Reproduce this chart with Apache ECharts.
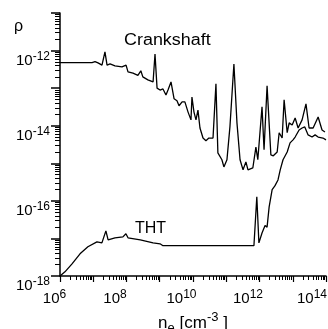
<!DOCTYPE html>
<html>
<head>
<meta charset="utf-8">
<script src="https://cdn.jsdelivr.net/npm/echarts@6/dist/echarts.min.js"></script>
<style>html,body{margin:0;padding:0;background:#fff}#c{width:328px;height:329px}</style>
</head>
<body>
<div id="c"></div>
<script>
// ---- data ----
const crankN = [1e6,9.2e6,1.13e7,1.39e7,1.83e7,2.25e7,2.6e7,3.2e7,4.5e7,7.3e7,9.7e7,1.11e8,1.57e8,2.2e8,2.7e8,3.1e8,4.4e8,6.3e8,7.2e8,8.3e8,1.02e9,1.25e9,1.54e9,1.77e9,2.18e9,2.7e9,3.3e9,3.8e9,4.7e9,5.7e9,7.1e9,8.7e9,9.3e9,1.07e10,1.23e10,1.41e10,1.62e10,2.0e10,2.45e10,3.0e10,4.0e10,4.9e10,5.6e10,7.4e10,8.5e10,1.05e11,1.29e11,1.7e11,2.1e11,2.6e11,3.2e11,3.9e11,4.5e11,6.3e11,7.8e11,8.9e11,1.19e12,1.37e12,1.69e12,2.2e12,2.6e12,3.4e12,3.9e12,4.8e12,5.5e12,6.8e12,7.8e12,9.6e12,1.18e13,1.45e13,1.91e13,2.5e13,3.1e13,4.1e13,5.8e13,7.6e13,9.3e13];
const crankRho = [4.8e-13,4.8e-13,5.1e-13,4.7e-13,4.1e-13,9.2e-13,4.1e-13,4.4e-13,3.9e-13,3.7e-13,4.1e-13,2.7e-13,2.5e-13,2.2e-13,2.9e-13,2.0e-13,1.66e-13,1.46e-13,8.1e-13,1.0e-13,8.9e-14,9.5e-14,6.6e-14,8.9e-14,1.46e-13,5.2e-14,4.6e-14,3.4e-14,4.3e-14,4.3e-14,2.3e-14,1.43e-14,5.8e-14,2.3e-14,1.43e-14,2.6e-14,8.7e-15,4.7e-15,4.0e-15,4.7e-15,4.7e-15,1.3e-13,1.9e-15,1.24e-15,8.0e-16,1.24e-15,9.3e-15,4.4e-13,1.19e-14,1.24e-15,6.7e-16,1.09e-15,6.7e-16,7.5e-16,2.7e-15,1.24e-15,3.2e-14,2.3e-15,1.15e-13,1.67e-15,1.58e-15,2.0e-15,6.5e-15,4.7e-15,4.9e-14,6.5e-15,1.19e-14,1.05e-14,1.6e-14,8.7e-15,1.43e-14,3.8e-14,8.7e-15,8.7e-15,1.71e-14,7.7e-15,6.8e-15];
const thtN = [1e6,1.41e6,2.3e6,4.0e6,6.9e6,1.29e7,1.82e7,2.4e7,2.8e7,4.5e7,7.8e7,9.6e7,1.11e8,2.6e8,6.3e8,1.02e9,1.25e9,2.7e9,3.1e9,3.5e9,6.8e11,7.8e11,8.3e11,9.6e11,1.19e12,1.47e12,1.69e12,1.95e12,2.4e12,2.9e12,3.6e12,4.2e12,5.1e12,6.8e12,8.3e12,1.02e13,1.18e13,1.55e13,1.91e13,2.3e13,2.9e13,3.8e13,4.7e13,5.8e13,8.1e13,1e14];
const thtRho = [1.0e-18,1.29e-18,2.1e-18,3.9e-18,6.0e-18,8.1e-18,7.6e-18,1.59e-17,9.2e-18,1.04e-17,1.1e-17,1.33e-17,1.04e-17,9.2e-18,7.6e-18,7.2e-18,6.4e-18,6.4e-18,6.8e-18,6.4e-18,6.4e-18,7.2e-18,1.28e-16,7.6e-18,1.4e-17,2.2e-17,2.0e-17,6.9e-17,2.0e-16,2.5e-16,3.6e-16,6.7e-16,1.24e-15,2.0e-15,3.5e-15,4.2e-15,5.0e-15,7.7e-15,8.7e-15,9.3e-15,5.7e-15,5.0e-15,5.7e-15,5.0e-15,4.7e-15,4.2e-15];
const xLabelExps = [6, 8, 10, 12, 14];
const yLabelExps = [-12, -14, -16, -18];
const xDecadeExps = [6,7,8,9,10,11,12,13,14];
const yDecadeExps = [-11,-12,-13,-14,-15,-16,-17,-18];
const seriesNames = ['Crankshaft', 'THT'];

// ---- build ----
const FONT = 'Liberation Sans, Arial, sans-serif';
const pw = e => Number('1e' + e);
const minorOf = exps => {
  const out = [];
  const sorted = exps.slice().sort((a,b)=>a-b);
  for (let i = 0; i < sorted.length - 1; i++) for (let m = 2; m <= 9; m++) out.push(Number(m + 'e' + sorted[i]));
  return out;
};
const xMajor = xDecadeExps.map(pw), yMajor = yDecadeExps.map(pw);
const xMinor = minorOf(xDecadeExps), yMinor = minorOf(yDecadeExps);
const expOf = v => Math.round(Math.log10(v));
const yLab = v => '{b|10}{s|' + expOf(v) + '}';
const xLab = v => {
  const e = expOf(v);
  const core = '{b|10}{s|' + e + '}';
  if (e === xLabelExps[0]) return '{padL| }' + core;
  if (e === xLabelExps[xLabelExps.length - 1]) return core + '{padR| }';
  return core;
};
const rich = {
  b: {fontSize: 15, fontFamily: FONT, color: '#000', lineHeight: 20},
  s: {fontSize: 12, fontFamily: FONT, color: '#000', verticalAlign: 'top', lineHeight: 12},
  padL: {width: 12, fontSize: 12},
  padR: {width: 5, fontSize: 12}
};
const X = {type: 'log', logBase: 10, min: 1e6, max: 1e14, gridIndex: 0, position: 'bottom', splitLine: {show: false}};
const Y = {type: 'log', logBase: 10, min: 1e-18, max: 1e-11, gridIndex: 0, position: 'left', splitLine: {show: false}};
const tickAxis = (B, vals, len, w) => Object.assign({}, B, {
  axisLine: {show: false}, axisLabel: {show: false},
  axisTick: {show: true, customValues: vals, length: len, lineStyle: {color: '#000', width: w}}
});

const chart = echarts.init(document.getElementById('c'), null, {renderer: 'canvas'});
chart.setOption({
  animation: false,
  grid: {left: 60, top: 13, width: 266, height: 263, outerBoundsMode: 'none'},
  xAxis: [
    Object.assign({}, X, {
      axisLine: {show: true, lineStyle: {color: '#000', width: 1.5}},
      axisTick: {show: false},
      axisLabel: {customValues: xLabelExps.map(pw), formatter: xLab, rich: rich, margin: 13, padding: [0, 23, 0, 0]},
      name: 'n{sub|e} [cm{sup|-3} ]', nameLocation: 'middle', nameGap: 34,
      nameTextStyle: {fontSize: 17, fontFamily: FONT, color: '#000', lineHeight: 24,
        rich: {sub: {fontSize: 13, fontFamily: FONT, color: '#000', verticalAlign: 'bottom', lineHeight: 12},
               sup: {fontSize: 13, fontFamily: FONT, color: '#000', verticalAlign: 'top', lineHeight: 12}}}
    }),
    tickAxis(X, xMajor, 6, 1.2),
    tickAxis(X, xMinor, 4, 1)
  ],
  yAxis: [
    Object.assign({}, Y, {
      axisLine: {show: true, lineStyle: {color: '#000', width: 1.5}},
      axisTick: {show: false},
      axisLabel: {customValues: yLabelExps.map(pw), formatter: yLab, rich: rich, margin: 10, padding: [20, 0, 0, 0]}
    }),
    tickAxis(Y, yMajor, 9, 1.5),
    tickAxis(Y, yMinor, 5, 1)
  ],
  series: [
    {name: seriesNames[0], type: 'line', xAxisIndex: 0, yAxisIndex: 0, showSymbol: false, symbol: 'none',
     lineStyle: {color: '#000', width: 1.3}, data: crankN.map((n, i) => [n, crankRho[i]])},
    {name: seriesNames[1], type: 'line', xAxisIndex: 0, yAxisIndex: 0, showSymbol: false, symbol: 'none',
     lineStyle: {color: '#000', width: 1.3}, data: thtN.map((n, i) => [n, thtRho[i]])}
  ],
  graphic: [
    {type: 'text', x: 124, y: 33, scaleX: 1.12, style: {text: seriesNames[0], font: '16px ' + FONT, fill: '#000'}},
    {type: 'text', x: 135, y: 221, style: {text: seriesNames[1], font: '16px ' + FONT, fill: '#000'}},
    {type: 'text', x: 14, y: 19, style: {text: 'ρ', font: '16px ' + FONT, fill: '#000'}}
  ]
});
</script>
</body>
</html>
